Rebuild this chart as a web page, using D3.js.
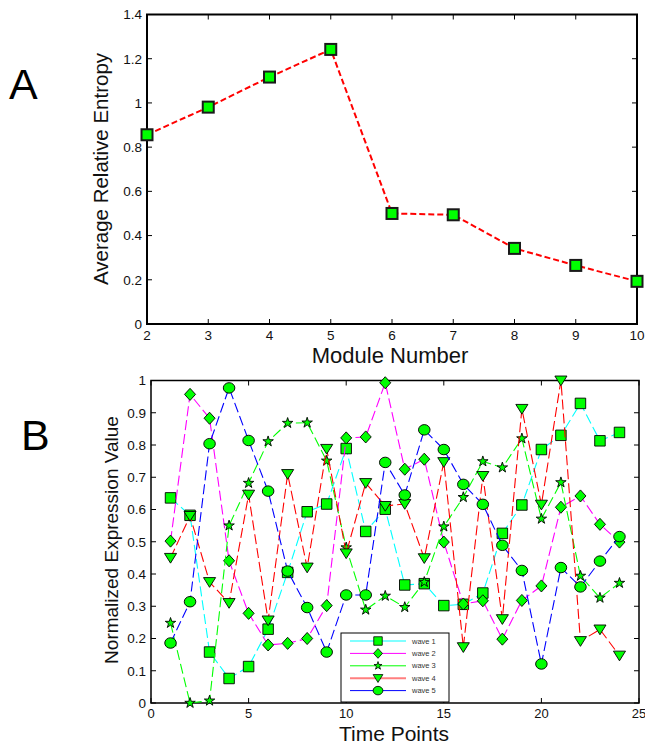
<!DOCTYPE html>
<html>
<head>
<meta charset="utf-8">
<script src="https://cdn.jsdelivr.net/npm/d3@7"></script>
<style>
html,body{margin:0;padding:0;background:#fff;}
svg{display:block;font-family:"Liberation Sans",Arial,sans-serif;}
</style>
</head>
<body>
<svg id="chart" width="645" height="746"></svg>
<script>
// ---- Panel A data ----
const moduleNumbers = [2, 3, 4, 5, 6, 7, 8, 9, 10];
const entropy = [0.856, 0.981, 1.117, 1.242, 0.500, 0.494, 0.342, 0.265, 0.193];
const entropyTicks = [0, 0.2, 0.4, 0.6, 0.8, 1, 1.2, 1.4];
const entropyTickLabels = ["0", "0.2", "0.4", "0.6", "0.8", "1", "1.2", "1.4"];

// ---- Panel B data ----
const timePoints = [1,2,3,4,5,6,7,8,9,10,11,12,13,14,15,16,17,18,19,20,21,22,23,24];
const wave1 = [0.636,0.582,0.158,0.076,0.113,0.229,0.405,0.593,0.617,0.789,0.532,0.601,0.366,0.370,0.302,0.306,0.341,0.526,0.614,0.786,0.830,0.929,0.813,0.839];
const wave2 = [0.502,0.957,0.883,0.441,0.278,0.180,0.185,0.200,0.302,0.822,0.825,0.993,0.725,0.756,0.499,0.307,0.317,0.198,0.318,0.363,0.607,0.642,0.554,0.499];
const wave3 = [0.248,0.000,0.007,0.550,0.682,0.811,0.868,0.869,0.751,0.482,0.289,0.332,0.297,0.375,0.547,0.638,0.749,0.730,0.820,0.571,0.684,0.394,0.326,0.372];
const wave4 = [0.450,0.580,0.375,0.310,0.646,0.256,0.710,0.420,0.788,0.464,0.682,0.611,0.617,0.449,0.747,0.173,0.704,0.260,0.912,0.615,1.000,0.192,0.228,0.147];
const wave5 = [0.186,0.314,0.804,0.977,0.814,0.657,0.409,0.296,0.158,0.335,0.335,0.746,0.645,0.847,0.786,0.678,0.616,0.489,0.411,0.121,0.420,0.360,0.440,0.516];
const waveNames = ["wave 1", "wave 2", "wave 3", "wave 4", "wave 5"];
const waveColors = ["#00ffff", "#ff00ff", "#00ff00", "#ff0000", "#0000ff"];
const legendLineColors = ["#80ffff", "#ff00ff", "#00ff00", "#ff7f7f", "#0000ff"];
const waveMarkers = ["square", "diamond", "star", "triangle", "circle"];
const timeTicks = [0, 5, 10, 15, 20, 25];
const exprTicks = [0, 0.1, 0.2, 0.3, 0.4, 0.5, 0.6, 0.7, 0.8, 0.9, 1];
const exprTickLabels = ["0", "0.1", "0.2", "0.3", "0.4", "0.5", "0.6", "0.7", "0.8", "0.9", "1"];

const svg = d3.select("#chart");
const FONT_TICK = 13.5;

function boxAxes(g, x, y, xTicks, yTicks, yLabels, xLabelY, strokeW, xFont) {
  const [x0, x1] = x.range();
  const [y0, y1] = y.range(); // y0 bottom, y1 top
  const tl = 5;
  g.append("rect").attr("x", x0).attr("y", y1).attr("width", x1 - x0).attr("height", y0 - y1)
    .attr("fill", "none").attr("stroke", "#000").attr("stroke-width", strokeW);
  xTicks.forEach(t => {
    const px = x(t);
    g.append("line").attr("x1", px).attr("x2", px).attr("y1", y0).attr("y2", y0 - tl).attr("stroke", "#000");
    g.append("line").attr("x1", px).attr("x2", px).attr("y1", y1).attr("y2", y1 + tl).attr("stroke", "#000");
    g.append("text").attr("x", px).attr("y", xLabelY).attr("text-anchor", "middle")
      .attr("font-size", xFont).attr("fill", "#111").text(String(t));
  });
  yTicks.forEach((t, i) => {
    const py = y(t);
    g.append("line").attr("x1", x0).attr("x2", x0 + tl).attr("y1", py).attr("y2", py).attr("stroke", "#000");
    g.append("line").attr("x1", x1).attr("x2", x1 - tl).attr("y1", py).attr("y2", py).attr("stroke", "#000");
    g.append("text").attr("x", x0 - 5).attr("y", py).attr("dy", "0.36em").attr("text-anchor", "end")
      .attr("font-size", FONT_TICK).attr("fill", "#111").text(yLabels[i]);
  });
}

// ================= Panel A =================
const xA = d3.scaleLinear().domain([2, 10]).range([147, 637]);
const yA = d3.scaleLinear().domain([0, 1.4]).range([324, 14.5]);
const gA = svg.append("g");
boxAxes(gA, xA, yA, moduleNumbers, entropyTicks, entropyTickLabels, 340, 2, FONT_TICK);

const lineA = d3.line().x((d, i) => xA(moduleNumbers[i])).y(d => yA(d));
gA.append("path").datum(entropy).attr("d", lineA).attr("fill", "none")
  .attr("stroke", "#ff0000").attr("stroke-width", 2).attr("stroke-dasharray", "6,3");
gA.selectAll("rect.mk").data(entropy).enter().append("rect").attr("class", "mk")
  .attr("x", (d, i) => xA(moduleNumbers[i]) - 5.5).attr("y", d => yA(d) - 5.5)
  .attr("width", 11).attr("height", 11).attr("fill", "#00ff00")
  .attr("stroke", "#1a1a1a").attr("stroke-width", 2);

gA.append("text").attr("transform", "translate(108,169) rotate(-90)").attr("text-anchor", "middle")
  .attr("font-size", 20.5).attr("fill", "#111").text("Average Relative Entropy");
gA.append("text").attr("x", 390).attr("y", 363).attr("text-anchor", "middle")
  .attr("font-size", 22).attr("fill", "#111").text("Module Number");
svg.append("text").attr("x", 9).attr("y", 99).attr("font-size", 43).attr("fill", "#000").text("A");

// ================= Panel B =================
const xB = d3.scaleLinear().domain([0, 25]).range([151, 639]);
const yB = d3.scaleLinear().domain([0, 1]).range([703, 380.5]);
const gB = svg.append("g");
boxAxes(gB, xB, yB, timeTicks, exprTicks, exprTickLabels, 717.5, 1.5, 13);

function markerPath(type, s) {
  const h = s / 2;
  switch (type) {
    case "square": return `M${-h},${-h}H${h}V${h}H${-h}Z`;
    case "diamond": return `M0,${-h * 1.15}L${h * 1.05},0L0,${h * 1.15}L${-h * 1.05},0Z`;
    case "triangle": return `M${-h * 1.15},${-h * 0.85}L${h * 1.15},${-h * 0.85}L0,${h * 1.0}Z`;
    case "star": return d3.symbol(d3.symbolStar, (h * h) / 0.89)();
    case "circle": return d3.symbol(d3.symbolCircle, Math.PI * (h * 1.05) * (h * 0.95))();
  }
}

const waves = [wave1, wave2, wave3, wave4, wave5];
const lineB = d3.line().x((d, i) => xB(timePoints[i])).y(d => yB(d));
waves.forEach((w, k) => {
  gB.append("path").datum(w).attr("d", lineB).attr("fill", "none")
    .attr("stroke", waveColors[k]).attr("stroke-width", 1.1).attr("stroke-dasharray", "10,4");
  const sz = waveMarkers[k] === "star" ? 11 : 10.5;
  gB.selectAll("path.m" + k).data(w).enter().append("path").attr("class", "m" + k)
    .attr("transform", (d, i) => {
      const sx = waveMarkers[k] === "circle" ? 1.1 : 1;
      return `translate(${xB(timePoints[i])},${yB(d)}) scale(${sx},1)`;
    })
    .attr("d", markerPath(waveMarkers[k], sz))
    .attr("fill", "#00ff00").attr("stroke", "#000").attr("stroke-width", 0.9);
});

// Legend
const leg = gB.append("g");
leg.append("rect").attr("x", 341).attr("y", 633).attr("width", 108).attr("height", 69)
  .attr("fill", "#fff").attr("stroke", "#000").attr("stroke-width", 1);
waveNames.forEach((name, k) => {
  const ly = 641 + k * 12.4;
  leg.append("line").attr("x1", 350).attr("x2", 406).attr("y1", ly).attr("y2", ly)
    .attr("stroke", legendLineColors[k]).attr("stroke-width", (k === 0 || k === 3) ? 2 : 1);
  leg.append("path").attr("transform", `translate(378,${ly}) scale(${k === 4 ? 1.15 : 1},1)`)
    .attr("d", markerPath(waveMarkers[k], 8.5))
    .attr("fill", "#00ff00").attr("stroke", "#000").attr("stroke-width", 0.8);
  leg.append("text").attr("x", 412).attr("y", ly).attr("dy", "0.35em")
    .attr("font-size", 7.5).attr("fill", "#333").text(name);
});

gB.append("text").attr("transform", "translate(118,540) rotate(-90)").attr("text-anchor", "middle")
  .attr("font-size", 19).attr("fill", "#111").text("Normalized Expression Value");
gB.append("text").attr("x", 394).attr("y", 741).attr("text-anchor", "middle")
  .attr("font-size", 21).attr("fill", "#111").text("Time Points");
svg.append("text").attr("x", 21).attr("y", 450).attr("font-size", 43).attr("fill", "#000").text("B");
</script>
</body>
</html>
